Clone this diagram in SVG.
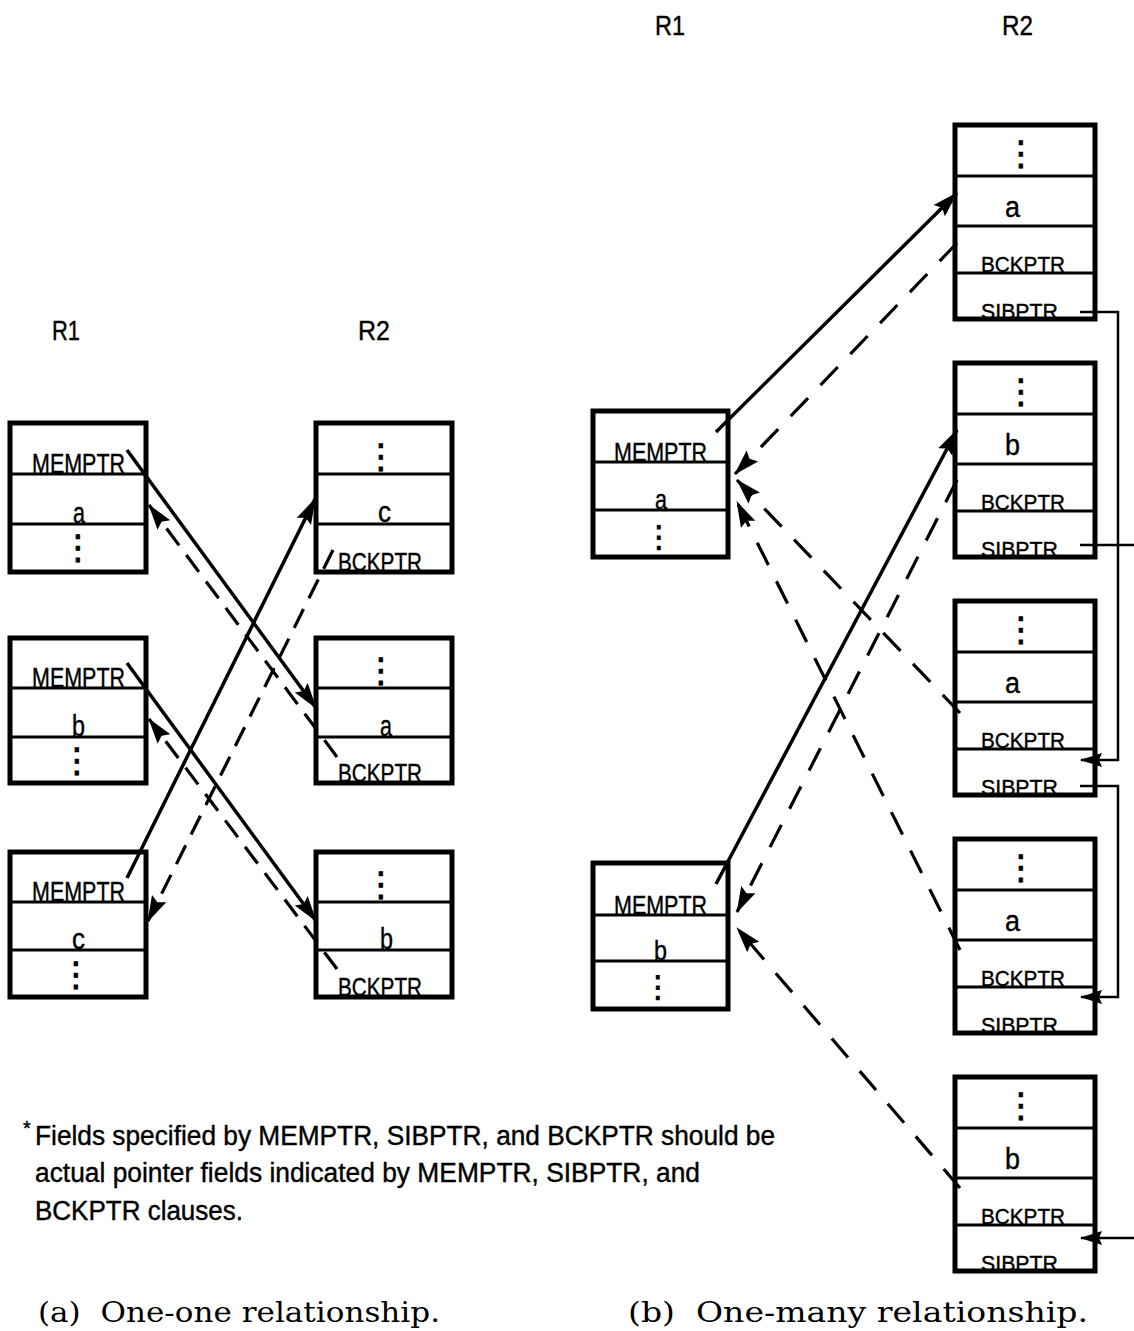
<svg xmlns="http://www.w3.org/2000/svg" width="1134" height="1331" viewBox="0 0 1134 1331">
<style>
  .box { fill: none; stroke: #000; stroke-width: 5; }
  .sep { stroke: #000; stroke-width: 3; }
  .t { font-family: "Liberation Sans", Arial, sans-serif; fill: #000; stroke: #000; stroke-width: 0.4; }
  .dots { font-family: "DejaVu Sans", sans-serif; fill: #000; text-anchor: middle; stroke: #000; stroke-width: 0.8; }
  .solid { stroke: #000; stroke-width: 3.5; fill: none; }
  .dash { stroke: #000; stroke-width: 3.2; fill: none; stroke-dasharray: 21 12; }
  .dashr { stroke: #000; stroke-width: 3.2; fill: none; stroke-dasharray: 25 18; }
  .sib { stroke: #000; stroke-width: 2.5; fill: none; }
  .cap { font-family: "DejaVu Serif", "Liberation Serif", serif; fill: #000; white-space: pre; }
</style>
<defs>
  <marker id="ah" markerUnits="userSpaceOnUse" markerWidth="26" markerHeight="18" refX="25" refY="9" orient="auto">
    <path d="M0,1 L26,9 L0,17 L4,9 z" fill="#000"/>
  </marker>
  <marker id="sa" markerUnits="userSpaceOnUse" markerWidth="22" markerHeight="16" refX="21" refY="8" orient="auto">
    <path d="M0,1 L22,8 L0,15 L3,8 z" fill="#000"/>
  </marker>
</defs>
<rect width="1134" height="1331" fill="#fff"/>

<!-- Titles -->
<text class="t" x="52" y="340" font-size="27" textLength="28" lengthAdjust="spacingAndGlyphs">R1</text>
<text class="t" x="358" y="340" font-size="27" textLength="32" lengthAdjust="spacingAndGlyphs">R2</text>
<text class="t" x="655" y="35" font-size="27" textLength="30" lengthAdjust="spacingAndGlyphs">R1</text>
<text class="t" x="1002" y="35" font-size="27" textLength="31" lengthAdjust="spacingAndGlyphs">R2</text>

<!-- (a) left R1 boxes -->
<g id="a-r1-a">
  <text class="t" x="32" y="473" font-size="27" textLength="93" lengthAdjust="spacingAndGlyphs">MEMPTR</text>
  <text class="t" x="73" y="523" font-size="29" textLength="12" lengthAdjust="spacingAndGlyphs">a</text>
  <text class="dots" x="78" y="559" font-size="34">⋮</text>
  <line class="sep" x1="10" y1="474" x2="146" y2="474"/>
  <line class="sep" x1="10" y1="524" x2="146" y2="524"/>
  <rect class="box" x="10" y="423" width="136" height="149"/>
</g>
<g id="a-r1-b">
  <text class="t" x="32" y="687" font-size="27" textLength="93" lengthAdjust="spacingAndGlyphs">MEMPTR</text>
  <text class="t" x="72" y="736" font-size="29" textLength="13" lengthAdjust="spacingAndGlyphs">b</text>
  <text class="dots" x="77" y="772" font-size="34">⋮</text>
  <line class="sep" x1="10" y1="688" x2="146" y2="688"/>
  <line class="sep" x1="10" y1="737" x2="146" y2="737"/>
  <rect class="box" x="10" y="638" width="136" height="145"/>
</g>
<g id="a-r1-c">
  <text class="t" x="32" y="901" font-size="27" textLength="93" lengthAdjust="spacingAndGlyphs">MEMPTR</text>
  <text class="t" x="72" y="949" font-size="29" textLength="13" lengthAdjust="spacingAndGlyphs">c</text>
  <text class="dots" x="76" y="986" font-size="34">⋮</text>
  <line class="sep" x1="10" y1="902" x2="146" y2="902"/>
  <line class="sep" x1="10" y1="950" x2="146" y2="950"/>
  <rect class="box" x="10" y="852" width="136" height="145"/>
</g>

<!-- (a) left R2 boxes -->
<g id="a-r2-c">
  <text class="dots" x="381" y="468" font-size="34">⋮</text>
  <text class="t" x="378" y="522" font-size="29" textLength="13" lengthAdjust="spacingAndGlyphs">c</text>
  <text class="t" x="338" y="571" font-size="25" textLength="84" lengthAdjust="spacingAndGlyphs">BCKPTR</text>
  <line class="sep" x1="316" y1="474" x2="452" y2="474"/>
  <line class="sep" x1="316" y1="524" x2="452" y2="524"/>
  <rect class="box" x="316" y="423" width="136" height="149"/>
</g>
<g id="a-r2-a">
  <text class="dots" x="381" y="682" font-size="34">⋮</text>
  <text class="t" x="380" y="736" font-size="29" textLength="12" lengthAdjust="spacingAndGlyphs">a</text>
  <text class="t" x="338" y="782" font-size="25" textLength="84" lengthAdjust="spacingAndGlyphs">BCKPTR</text>
  <line class="sep" x1="316" y1="688" x2="452" y2="688"/>
  <line class="sep" x1="316" y1="737" x2="452" y2="737"/>
  <rect class="box" x="316" y="638" width="136" height="145"/>
</g>
<g id="a-r2-b">
  <text class="dots" x="381" y="896" font-size="34">⋮</text>
  <text class="t" x="380" y="949" font-size="29" textLength="13" lengthAdjust="spacingAndGlyphs">b</text>
  <text class="t" x="338" y="996" font-size="25" textLength="84" lengthAdjust="spacingAndGlyphs">BCKPTR</text>
  <line class="sep" x1="316" y1="902" x2="452" y2="902"/>
  <line class="sep" x1="316" y1="950" x2="452" y2="950"/>
  <rect class="box" x="316" y="852" width="136" height="145"/>
</g>

<!-- (b) right R1 boxes -->
<g id="b-r1-a">
  <text class="t" x="614" y="461" font-size="25" textLength="93" lengthAdjust="spacingAndGlyphs">MEMPTR</text>
  <text class="t" x="655" y="509" font-size="28" textLength="12" lengthAdjust="spacingAndGlyphs">a</text>
  <text class="dots" x="659" y="547" font-size="30">⋮</text>
  <line class="sep" x1="593" y1="462" x2="728" y2="462"/>
  <line class="sep" x1="593" y1="510" x2="728" y2="510"/>
  <rect class="box" x="593" y="411" width="135" height="146"/>
</g>
<g id="b-r1-b">
  <text class="t" x="614" y="914" font-size="25" textLength="93" lengthAdjust="spacingAndGlyphs">MEMPTR</text>
  <text class="t" x="654" y="960" font-size="28" textLength="13" lengthAdjust="spacingAndGlyphs">b</text>
  <text class="dots" x="658" y="997" font-size="30">⋮</text>
  <line class="sep" x1="593" y1="915" x2="728" y2="915"/>
  <line class="sep" x1="593" y1="961" x2="728" y2="961"/>
  <rect class="box" x="593" y="863" width="135" height="146"/>
</g>

<!-- (b) right R2 boxes -->
<g id="b-r2-1">
  <text class="dots" x="1021" y="165" font-size="34">⋮</text>
  <text class="t" x="1005" y="217" font-size="30" textLength="15" lengthAdjust="spacingAndGlyphs">a</text>
  <text class="t" x="981" y="272" font-size="22" textLength="84" lengthAdjust="spacingAndGlyphs">BCKPTR</text>
  <text class="t" x="981" y="319" font-size="22" textLength="77" lengthAdjust="spacingAndGlyphs">SIBPTR</text>
  <line class="sep" x1="955" y1="176" x2="1095" y2="176"/>
  <line class="sep" x1="955" y1="226" x2="1095" y2="226"/>
  <line class="sep" x1="955" y1="273" x2="1095" y2="273"/>
  <rect class="box" x="955" y="125" width="140" height="194"/>
</g>
<g id="b-r2-2">
  <text class="dots" x="1021" y="403" font-size="34">⋮</text>
  <text class="t" x="1005" y="455" font-size="30" textLength="15" lengthAdjust="spacingAndGlyphs">b</text>
  <text class="t" x="981" y="510" font-size="22" textLength="84" lengthAdjust="spacingAndGlyphs">BCKPTR</text>
  <text class="t" x="981" y="557" font-size="22" textLength="77" lengthAdjust="spacingAndGlyphs">SIBPTR</text>
  <line class="sep" x1="955" y1="414" x2="1095" y2="414"/>
  <line class="sep" x1="955" y1="464" x2="1095" y2="464"/>
  <line class="sep" x1="955" y1="511" x2="1095" y2="511"/>
  <rect class="box" x="955" y="363" width="140" height="194"/>
</g>
<g id="b-r2-3">
  <text class="dots" x="1021" y="641" font-size="34">⋮</text>
  <text class="t" x="1005" y="693" font-size="30" textLength="15" lengthAdjust="spacingAndGlyphs">a</text>
  <text class="t" x="981" y="748" font-size="22" textLength="84" lengthAdjust="spacingAndGlyphs">BCKPTR</text>
  <text class="t" x="981" y="795" font-size="22" textLength="77" lengthAdjust="spacingAndGlyphs">SIBPTR</text>
  <line class="sep" x1="955" y1="652" x2="1095" y2="652"/>
  <line class="sep" x1="955" y1="702" x2="1095" y2="702"/>
  <line class="sep" x1="955" y1="749" x2="1095" y2="749"/>
  <rect class="box" x="955" y="601" width="140" height="194"/>
</g>
<g id="b-r2-4">
  <text class="dots" x="1021" y="879" font-size="34">⋮</text>
  <text class="t" x="1005" y="931" font-size="30" textLength="15" lengthAdjust="spacingAndGlyphs">a</text>
  <text class="t" x="981" y="986" font-size="22" textLength="84" lengthAdjust="spacingAndGlyphs">BCKPTR</text>
  <text class="t" x="981" y="1033" font-size="22" textLength="77" lengthAdjust="spacingAndGlyphs">SIBPTR</text>
  <line class="sep" x1="955" y1="890" x2="1095" y2="890"/>
  <line class="sep" x1="955" y1="940" x2="1095" y2="940"/>
  <line class="sep" x1="955" y1="987" x2="1095" y2="987"/>
  <rect class="box" x="955" y="839" width="140" height="194"/>
</g>
<g id="b-r2-5">
  <text class="dots" x="1021" y="1117" font-size="34">⋮</text>
  <text class="t" x="1005" y="1169" font-size="30" textLength="15" lengthAdjust="spacingAndGlyphs">b</text>
  <text class="t" x="981" y="1224" font-size="22" textLength="84" lengthAdjust="spacingAndGlyphs">BCKPTR</text>
  <text class="t" x="981" y="1271" font-size="22" textLength="77" lengthAdjust="spacingAndGlyphs">SIBPTR</text>
  <line class="sep" x1="955" y1="1128" x2="1095" y2="1128"/>
  <line class="sep" x1="955" y1="1178" x2="1095" y2="1178"/>
  <line class="sep" x1="955" y1="1225" x2="1095" y2="1225"/>
  <rect class="box" x="955" y="1077" width="140" height="194"/>
</g>

<!-- Connectors -->
<g id="connectors">
  <!-- (a) -->
  <line class="solid" x1="127" y1="450" x2="316" y2="708" marker-end="url(#ah)"/>
  <line class="dash" x1="337" y1="757" x2="149" y2="505" marker-end="url(#ah)"/>
  <line class="solid" x1="127" y1="663" x2="316" y2="921" marker-end="url(#ah)"/>
  <line class="dash" x1="337" y1="969" x2="149" y2="719" marker-end="url(#ah)"/>
  <line class="solid" x1="127" y1="878" x2="315" y2="499" marker-end="url(#ah)"/>
  <line class="dash" x1="333" y1="550" x2="148" y2="921" marker-end="url(#ah)"/>
  <!-- (b) -->
  <line class="solid" x1="716" y1="432" x2="957" y2="193" marker-end="url(#ah)"/>
  <line class="solid" x1="716" y1="884" x2="957" y2="430" marker-end="url(#ah)"/>
  <line class="dashr" x1="957" y1="243" x2="735" y2="474" marker-end="url(#ah)"/>
  <line class="dashr" x1="960" y1="713" x2="737" y2="480" marker-end="url(#ah)"/>
  <line class="dashr" x1="960" y1="950" x2="737" y2="502" marker-end="url(#ah)"/>
  <line class="dashr" x1="957" y1="480" x2="737" y2="912" marker-end="url(#ah)"/>
  <line class="dashr" x1="960" y1="1188" x2="737" y2="928" marker-end="url(#ah)"/>
  <!-- SIBPTR chains -->
  <polyline class="sib" points="1080,312 1118,312 1118,760 1081,760" marker-end="url(#sa)"/>
  <line class="sib" x1="1080" y1="545" x2="1134" y2="545"/>
  <polyline class="sib" points="1080,786 1118,786 1118,997 1081,997" marker-end="url(#sa)"/>
  <line class="sib" x1="1134" y1="1238" x2="1081" y2="1238" marker-end="url(#sa)"/>
</g>

<!-- Footnote -->
<text class="t" x="23" y="1135" font-size="20">*</text>
<text class="t" x="35" y="1145" font-size="27" textLength="740" lengthAdjust="spacingAndGlyphs">Fields specified by MEMPTR, SIBPTR, and BCKPTR should be</text>
<text class="t" x="35" y="1182" font-size="27" textLength="665" lengthAdjust="spacingAndGlyphs">actual pointer fields indicated by MEMPTR, SIBPTR, and</text>
<text class="t" x="35" y="1220" font-size="27" textLength="208" lengthAdjust="spacingAndGlyphs">BCKPTR clauses.</text>

<!-- Captions -->
<text class="cap" x="38" y="1322" font-size="27" textLength="402" lengthAdjust="spacingAndGlyphs">(a)  One-one relationship.</text>
<text class="cap" x="628" y="1322" font-size="27" textLength="460" lengthAdjust="spacingAndGlyphs">(b)  One-many relationship.</text>
</svg>
